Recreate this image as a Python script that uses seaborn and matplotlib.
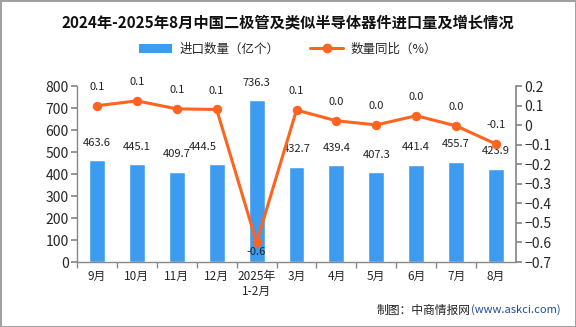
import matplotlib
matplotlib.use("Agg")
import matplotlib.pyplot as plt
import seaborn as sns
import numpy as np
import pandas as pd

categories = ["9月", "10月", "11月", "12月", "2025年\n1-2月", "3月", "4月", "5月", "6月", "7月", "8月"]
import_qty = [463.6, 445.1, 409.7, 444.5, 736.3, 432.7, 439.4, 407.3, 441.4, 455.7, 423.9]
yoy = [0.099, 0.124, 0.083, 0.08, -0.60, 0.077, 0.022, 0.001, 0.048, -0.004, -0.097]
yoy_labels = ["0.1", "0.1", "0.1", "0.1", "-0.6", "0.1", "0.0", "0.0", "0.0", "0.0", "-0.1"]
left_ticks = [0, 100, 200, 300, 400, 500, 600, 700, 800]
right_ticks = [0.2, 0.1, 0, -0.1, -0.2, -0.3, -0.4, -0.5, -0.6, -0.7]
right_tick_labels = ["0.2", "0.1", "0", "−0.1", "−0.2", "−0.3", "−0.4", "−0.5", "−0.6", "−0.7"]

sns.set_theme(style="white")
plt.rcParams["font.family"] = ["Noto Sans CJK SC", "DejaVu Sans"]
plt.rcParams["axes.unicode_minus"] = False

BLUE = "#3d9cf0"
ORANGE = "#fc6420"
GRAY = "#888888"

fig = plt.figure(figsize=(5.76, 3.27), dpi=100)
fig.patch.set_edgecolor("#a0a0a0")
fig.patch.set_linewidth(2)
ax = fig.add_axes([77/576, 1-262/327, (516-77)/576, (262-86)/327])

df = pd.DataFrame({"cat": categories, "qty": import_qty, "yoy": yoy})
sns.barplot(data=df, x="cat", y="qty", ax=ax, color=BLUE, width=0.4, saturation=1)
ax.set_xlim(-0.5, len(categories) - 0.5)
ax.set_ylim(0, 800)
ax.set_yticks(left_ticks)
ax.set_xlabel("")
ax.set_ylabel("")
ax.tick_params(axis="y", labelsize=10, length=4, color=GRAY, direction="out", left=True, pad=2)
ax.tick_params(axis="x", labelsize=8.5, length=0, pad=6)
for side in ["top", "right"]:
    ax.spines[side].set_visible(False)
for side in ["left", "bottom"]:
    ax.spines[side].set_color(GRAY)
    ax.spines[side].set_linewidth(1)
ax.set_xticks(np.arange(len(categories)) - 0.5, minor=True)
ax.tick_params(axis="x", which="minor", length=4, color=GRAY, direction="out", bottom=True)

bar_offsets = {3: -10}
for i, v in enumerate(import_qty):
    ax.annotate(f"{v:.1f}", (i, v), xytext=(bar_offsets.get(i, 0), 9), textcoords="offset points",
                ha="center", va="bottom", fontsize=8, color="#222222")

ax2 = ax.twinx()
ax2.set_position(ax.get_position())
sns.lineplot(x=np.arange(len(categories)), y=yoy, ax=ax2, color=ORANGE, linewidth=2.2,
             marker="o", markersize=6, markeredgecolor=ORANGE, sort=False)
ax2.set_ylim(-0.7, 0.2)
ax2.set_yticks(right_ticks)
ax2.set_yticklabels(right_tick_labels)
ax2.tick_params(axis="y", labelsize=10, length=4, color=GRAY, direction="out", right=True, pad=2)
for side in ["top", "left", "bottom"]:
    ax2.spines[side].set_visible(False)
ax2.spines["right"].set_color(GRAY)
ax2.set_ylabel("")
ax2.grid(False)
ax.grid(False)

for i, (v, lab) in enumerate(zip(yoy, yoy_labels)):
    if v < -0.3:
        ax2.annotate(lab, (i, v), xytext=(0, -3), textcoords="offset points",
                     ha="center", va="top", fontsize=8, color="#222222")
    else:
        ax2.annotate(lab, (i, v), xytext=(0, 10), textcoords="offset points",
                     ha="center", va="bottom", fontsize=8, color="#222222")

fig.text(0.5, 1-22/327, "2024年-2025年8月中国二极管及类似半导体器件进口量及增长情况",
         ha="center", va="center", fontsize=11, fontweight="bold", color="#111111")

from matplotlib.patches import Patch
from matplotlib.lines import Line2D
handles = [Patch(facecolor=BLUE, edgecolor="none"),
           Line2D([0], [0], color=ORANGE, linewidth=2.2, marker="o", markersize=6)]
fig.legend(handles, ["进口数量（亿个）", "数量同比（%）"], loc="center",
           bbox_to_anchor=(0.5, 1-49/327), ncol=2, frameon=False, fontsize=9,
           handlelength=2.6, columnspacing=2.5, handletextpad=0.6)

fig.text(0.817, 1-310/327, "制图：中商情报网", ha="right", va="center", fontsize=8.5, color="#222222")
fig.text(0.817, 1-310/327, "(www.askci.com)", ha="left", va="center", fontsize=8, color="#1f4e99")

fig.savefig("out.png", dpi=100, edgecolor=fig.get_edgecolor())
